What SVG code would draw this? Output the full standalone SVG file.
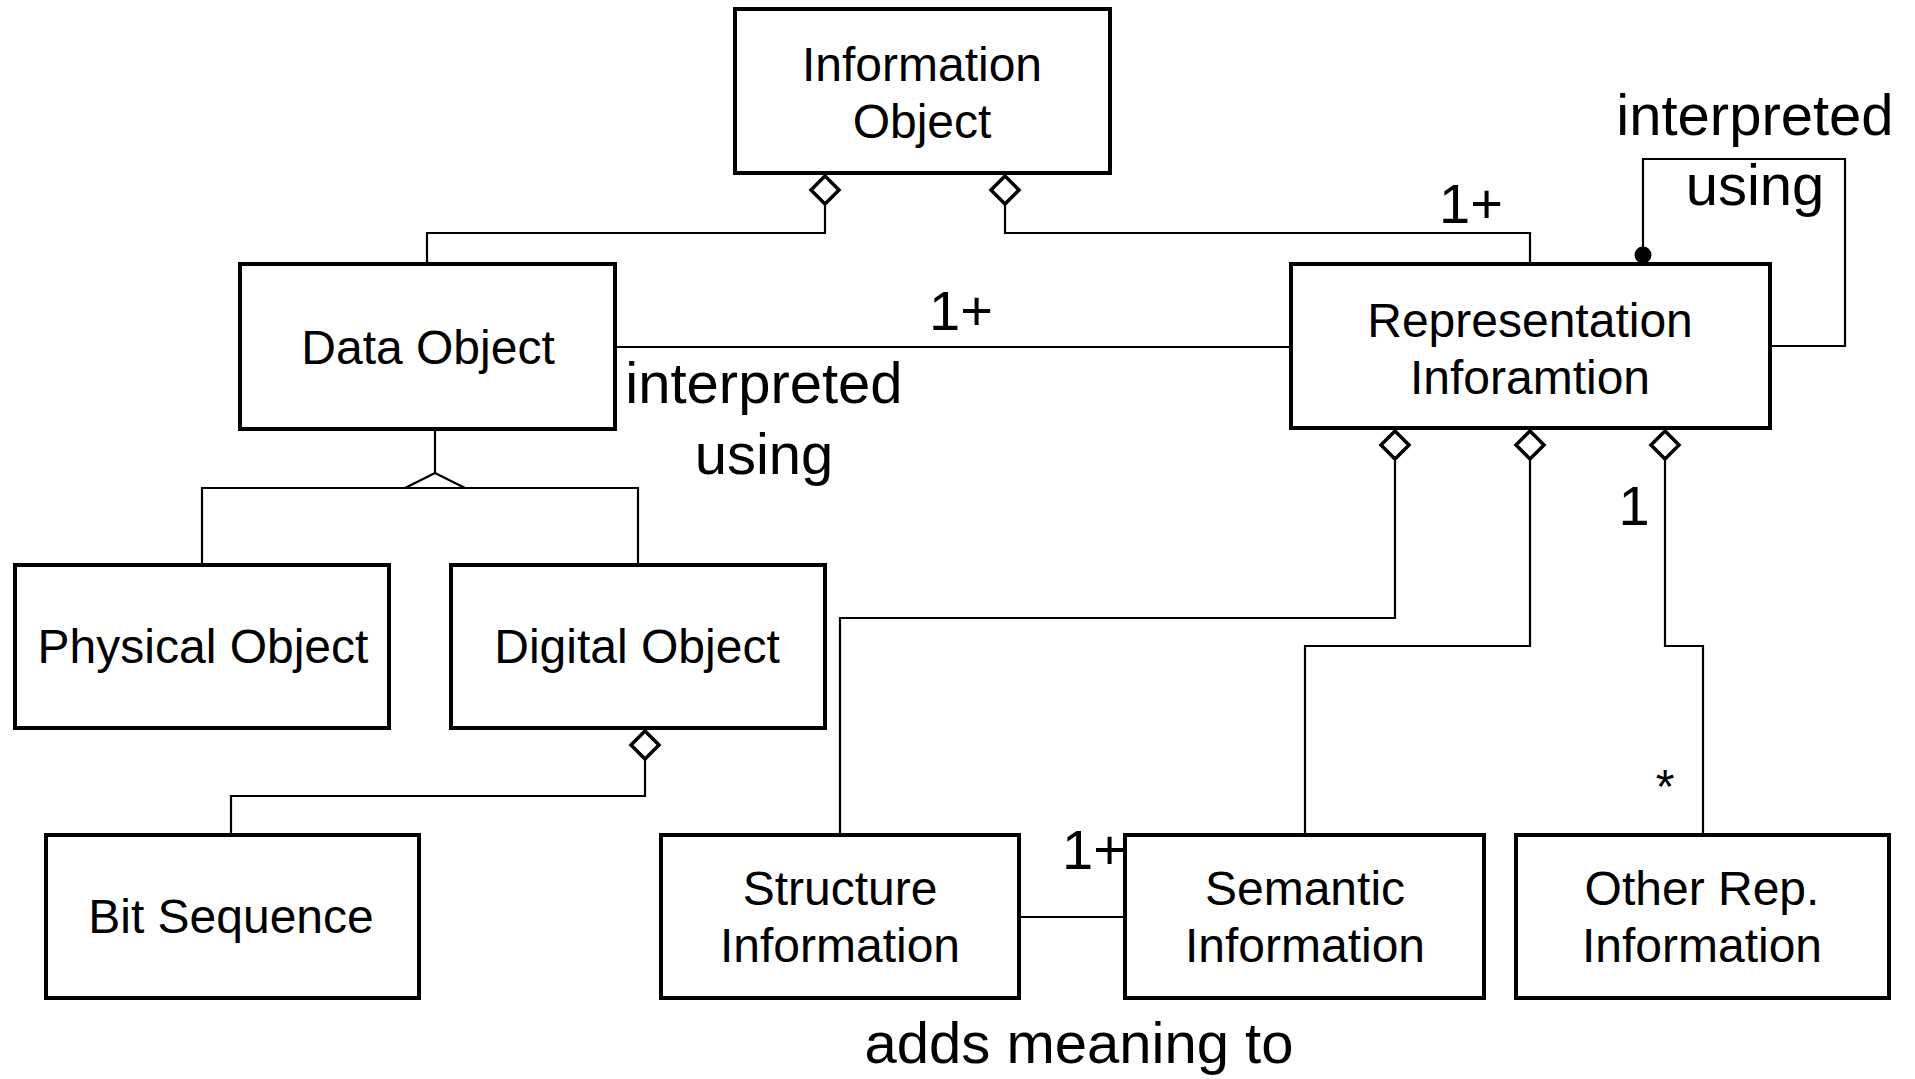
<svg xmlns="http://www.w3.org/2000/svg" width="1915" height="1079" viewBox="0 0 1915 1079">
<style>
.box{fill:#fff;stroke:#000;stroke-width:4}
.t{font-family:"Liberation Sans",Arial,sans-serif;font-size:48px;text-anchor:middle;fill:#000}
.l{font-family:"Liberation Sans",Arial,sans-serif;font-size:58px;text-anchor:middle;fill:#000}
.c{fill:none;stroke:#000;stroke-width:2.2}
.dia{fill:#fff;stroke:#000;stroke-width:3.5}
</style>
<rect width="1915" height="1079" fill="#fff"/>
<g id="connectors">
<path class="c" d="M825,205 V233 H427 V262"/>
<path class="c" d="M1005,205 V233 H1530 V262"/>
<path class="c" d="M615,347 H1291"/>
<path class="c" d="M435,429 V473"/>
<path class="c" d="M202,565 V488 H638 V565"/>
<path class="c" d="M405,488 L435,473 L465,488"/>
<path class="c" d="M645,760 V796 H231 V833"/>
<path class="c" d="M1395,460 V618 H840 V833"/>
<path class="c" d="M1530,460 V646 H1305 V833"/>
<path class="c" d="M1665,460 V646 H1703 V833"/>
<path class="c" d="M1021,917 H1123"/>
<path class="c" d="M1643,256 V159 H1845 V346 H1770"/>
<circle cx="1643" cy="255" r="8.5" fill="#000"/>
<path class="dia" d="M825,176 L839,190 L825,204 L811,190 Z"/>
<path class="dia" d="M1005,176 L1019,190 L1005,204 L991,190 Z"/>
<path class="dia" d="M645,731 L659,745 L645,759 L631,745 Z"/>
<path class="dia" d="M1395,431 L1409,445 L1395,459 L1381,445 Z"/>
<path class="dia" d="M1530,431 L1544,445 L1530,459 L1516,445 Z"/>
<path class="dia" d="M1665,431 L1679,445 L1665,459 L1651,445 Z"/>
<text class="l" x="1471" y="223" style="font-size:56px">1+</text>
<text class="l" x="961" y="330" style="font-size:56px">1+</text>
<text class="l" x="764" y="403">interpreted</text>
<text class="l" x="764" y="474">using</text>
<text class="l" x="1755" y="135">interpreted</text>
<text class="l" x="1755" y="205">using</text>
<text class="l" x="1634" y="525" style="font-size:56px">1</text>
<text class="t" x="1665" y="803" style="font-size:48px">*</text>
<text class="l" x="1094" y="869" style="font-size:56px">1+</text>
<text class="l" x="1079" y="1063">adds meaning to</text>
</g>
<g id="information-object">
<rect class="box" x="735" y="9" width="375" height="164"/>
<text class="t" x="922" y="81">Information</text>
<text class="t" x="922" y="138">Object</text>
</g>
<g id="data-object">
<rect class="box" x="240" y="264" width="375" height="165"/>
<text class="t" x="428" y="364">Data Object</text>
</g>
<g id="representation-information">
<rect class="box" x="1291" y="264" width="479" height="164"/>
<text class="t" x="1530" y="337">Representation</text>
<text class="t" x="1530" y="394">Inforamtion</text>
</g>
<g id="physical-object">
<rect class="box" x="15" y="565" width="374" height="163"/>
<text class="t" x="203" y="663">Physical Object</text>
</g>
<g id="digital-object">
<rect class="box" x="451" y="565" width="374" height="163"/>
<text class="t" x="637" y="663">Digital Object</text>
</g>
<g id="bit-sequence">
<rect class="box" x="46" y="835" width="373" height="163"/>
<text class="t" x="231" y="933">Bit Sequence</text>
</g>
<g id="structure-information">
<rect class="box" x="661" y="835" width="358" height="163"/>
<text class="t" x="840" y="905">Structure</text>
<text class="t" x="840" y="962">Information</text>
</g>
<g id="semantic-information">
<rect class="box" x="1125" y="835" width="359" height="163"/>
<text class="t" x="1305" y="905">Semantic</text>
<text class="t" x="1305" y="962">Information</text>
</g>
<g id="other-rep-information">
<rect class="box" x="1516" y="835" width="373" height="163"/>
<text class="t" x="1702" y="905">Other Rep.</text>
<text class="t" x="1702" y="962">Information</text>
</g>
</svg>
